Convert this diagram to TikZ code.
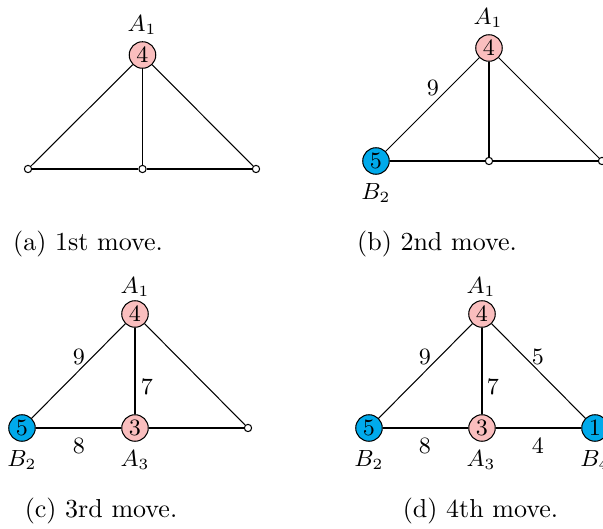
\documentclass[tikz,border=0pt]{standalone}
\definecolor{pinkA}{RGB}{250,190,190}
\definecolor{blueB}{RGB}{0,170,235}
\tikzset{
  vtx/.style={circle,draw,inner sep=0pt,minimum size=10.2pt,font=\fontsize{9}{10}\selectfont},
  vA/.style={vtx,fill=pinkA},
  vB/.style={vtx,fill=blueB},
  freevtx/.style={circle,draw,fill=white,inner sep=0pt,minimum size=2.8pt},
  lab/.style={inner sep=0pt,font=\fontsize{9}{10}\selectfont},
  captext/.style={inner sep=0pt,font=\fontsize{10}{12}\selectfont},
  wire/.style={line width=0.4pt}
}
\begin{document}
\begin{tikzpicture}[x=0.3846pt,y=-0.3846pt]
\useasboundingbox (0,0) rectangle (603,529);
% (a)
\node[vA] (a1) at (142.5,55) {4};
\node[freevtx] (aL) at (28,169) {};
\node[freevtx] (aM) at (142.5,169) {};
\node[freevtx] (aR) at (256,169) {};
\node[lab] (aA1) at (142,25) {$A_1$};
\draw[wire] (a1) -- (aL);
\draw[wire] (a1) -- (aM);
\draw[wire] (a1) -- (aR);
\draw[wire] (aL) -- (aM);
\draw[wire] (aM) -- (aR);
\node[captext] (capa) at (88,244.5) {(a) 1st move.};
% (b)
\node[vA] (b1) at (489,48) {4};
\node[vB] (b2) at (376,161) {5};
\node[freevtx] (bM) at (489,161) {};
\node[freevtx] (bR) at (602,161) {};
\node[lab] (bA1) at (488,18) {$A_1$};
\node[lab] (bB2) at (376,193) {$B_2$};
\node[lab] (b9) at (433,88) {9};
\draw[wire] (b1) -- (b2);
\draw[wire] (b1) -- (bM);
\draw[wire] (b1) -- (bR);
\draw[wire] (b2) -- (bM);
\draw[wire] (bM) -- (bR);
\node[captext] (capb) at (437,244.5) {(b) 2nd move.};
% (c)
\node[vA] (c1) at (135,314) {4};
\node[vB] (c2) at (22,428) {5};
\node[vA] (c3) at (135,428) {3};
\node[freevtx] (cR) at (248,428) {};
\node[lab] (cA1) at (135,287) {$A_1$};
\node[lab] (cB2) at (22,460) {$B_2$};
\node[lab] (cA3) at (135,460) {$A_3$};
\node[lab] (c9) at (79,357) {9};
\node[lab] (c7) at (147,387) {7};
\node[lab] (c8) at (79,446) {8};
\draw[wire] (c1) -- (c2);
\draw[wire] (c1) -- (c3);
\draw[wire] (c1) -- (cR);
\draw[wire] (c2) -- (c3);
\draw[wire] (c3) -- (cR);
\node[captext] (capc) at (101,511) {(c) 3rd move.};
% (d)
\node[vA] (d1) at (482,314) {4};
\node[vB] (d2) at (369,428) {5};
\node[vA] (d3) at (482,428) {3};
\node[vB] (d4) at (595,428) {1};
\node[lab] (dA1) at (481,287) {$A_1$};
\node[lab] (dB2) at (369,460) {$B_2$};
\node[lab] (dA3) at (481,460) {$A_3$};
\node[lab] (dB4) at (595,460) {$B_4$};
\node[lab] (d9) at (425,357) {9};
\node[lab] (d5) at (538,357) {5};
\node[lab] (d7) at (493,387) {7};
\node[lab] (d8) at (425,446) {8};
\node[lab] (d4l) at (538,446) {4};
\draw[wire] (d1) -- (d2);
\draw[wire] (d1) -- (d3);
\draw[wire] (d1) -- (d4);
\draw[wire] (d2) -- (d3);
\draw[wire] (d3) -- (d4);
\node[captext] (capd) at (480.5,511) {(d) 4th move.};
\end{tikzpicture}
\end{document}
